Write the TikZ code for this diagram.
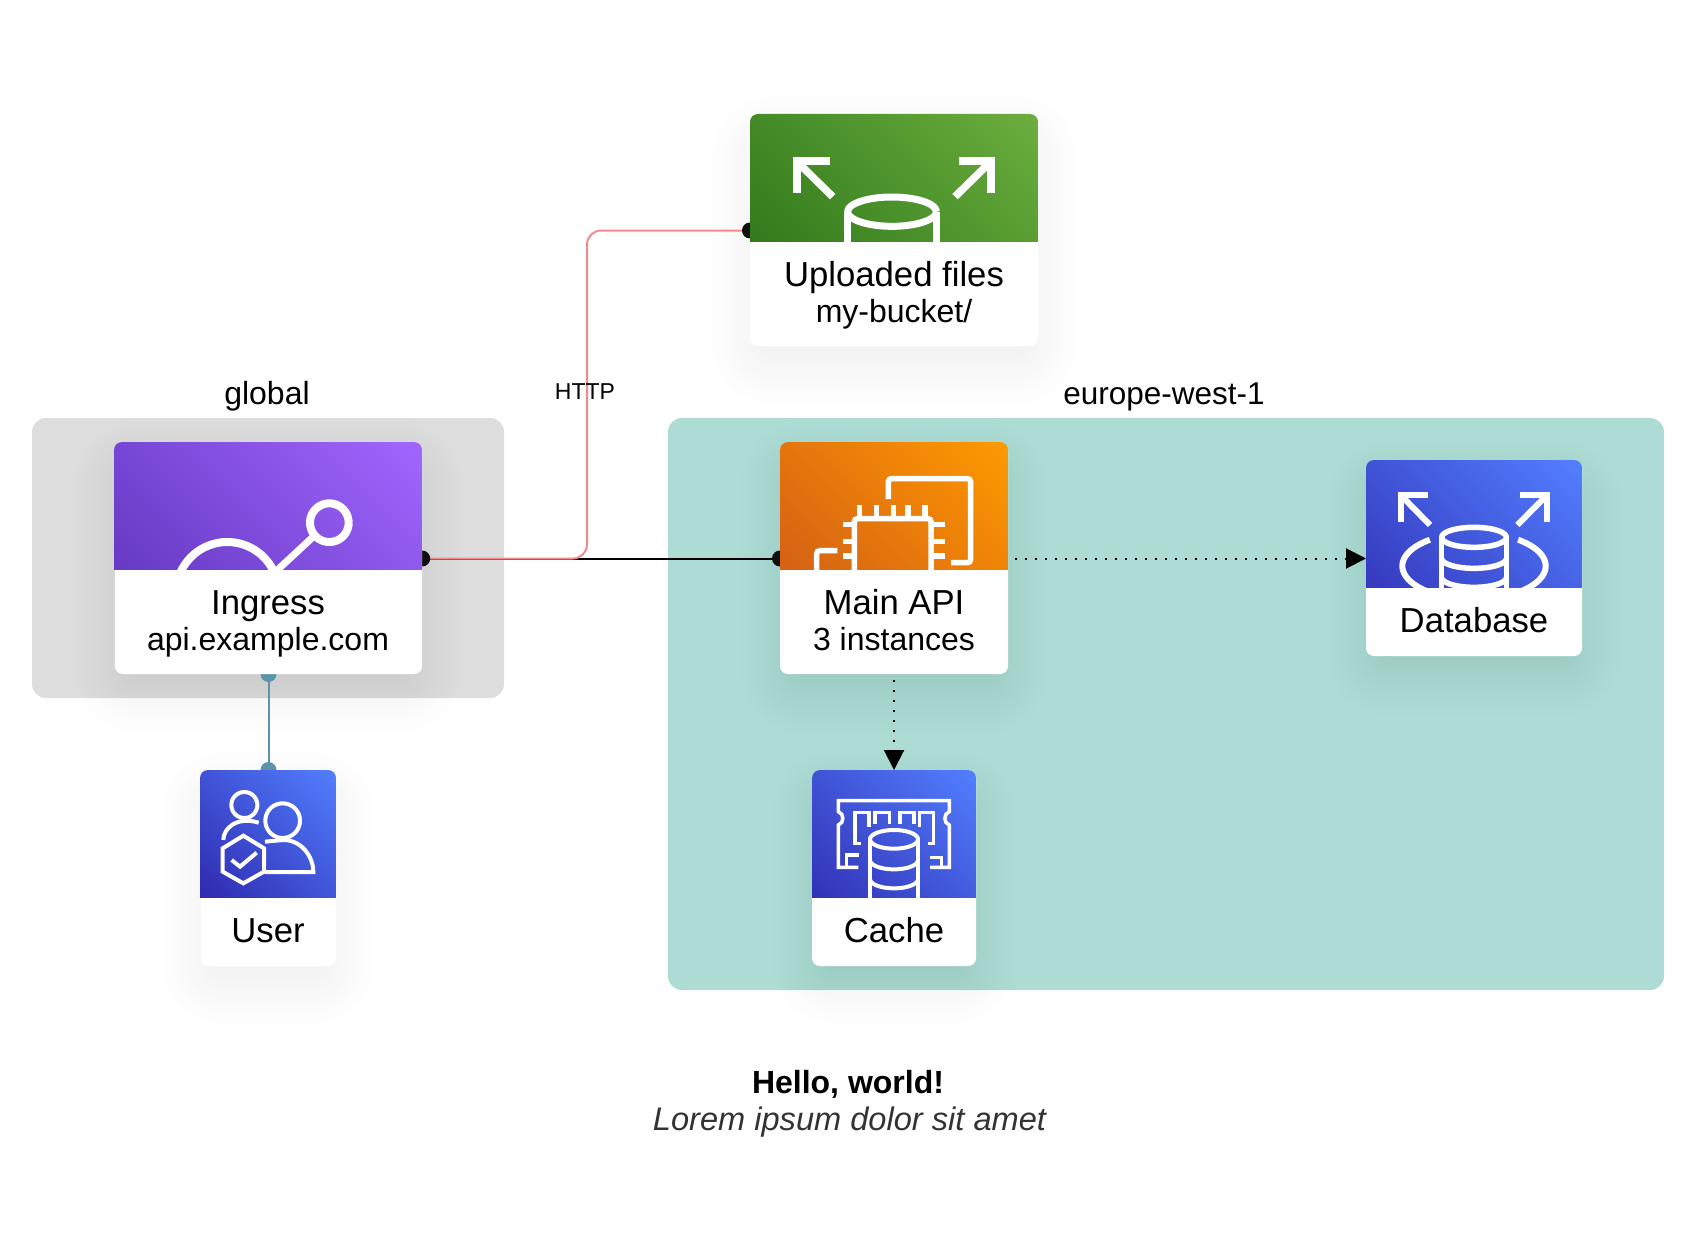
\documentclass[tikz,border=0pt]{standalone}
\usepackage{fontspec}
\setmainfont{Liberation Sans}
\usetikzlibrary{arrows.meta}
\pgfdeclarelayer{under}
\pgfsetlayers{under,main}
\definecolor{gDark}{HTML}{1B660F}\definecolor{gBright}{HTML}{6CAE3E}
\definecolor{pDark}{HTML}{4D27AA}\definecolor{pBright}{HTML}{A166FF}
\definecolor{oDark}{HTML}{C8511B}\definecolor{oBright}{HTML}{FF9900}
\definecolor{bDark}{HTML}{2E27AD}\definecolor{bBright}{HTML}{527FFF}
\definecolor{grpGray}{HTML}{DDDDDD}\definecolor{grpTeal}{HTML}{ADDCD4}
\definecolor{linkPink}{HTML}{F28B90}\definecolor{linkBlue}{HTML}{5B95AB}
\definecolor{dotBlack}{HTML}{0F0F0F}\definecolor{shadowCol}{HTML}{2B2F45}
\definecolor{subGray}{HTML}{333333}
\tikzset{
  x=1pt,y=-1pt,
  card/.style={fill=white,rounded corners=8pt,inner sep=0pt,outer sep=0pt},
  group/.style={rounded corners=14pt,inner sep=0pt,outer sep=0pt},
  big/.style={anchor=base,inner sep=0pt,font=\fontsize{34.7}{40}\selectfont},
  small/.style={anchor=base,inner sep=0pt,font=\fontsize{32}{38}\selectfont},
  icon/.style={draw=white,line width=#1pt,line join=miter,fill=none},
  icon/.default=5,
  link/.style={line width=2pt},
  dots/.style={line width=2pt,dash pattern=on 2pt off 8pt,-{Triangle[length=20pt,width=20pt]}},
}
\newcommand\earc[6][5]{\draw[icon=#1] plot[domain=#6,samples=48,variable=\t] ({#2+#4*cos(\t)},{#3+#5*sin(\t)});}
\newcommand\cardhead[7]{%
  \begin{scope}
    \clip (#1,#2) rectangle (#3,#4);
    \clip[rounded corners=8pt] (#1,#2) rectangle (#3,#4+30);
    \pgfmathsetmacro\cxx{(#1+#3)/2}
    \pgfmathsetmacro\wdt{#3-#1}
    \pgfmathsetmacro\cyy{#2+\wdt/2}
    \pgfmathsetmacro\hlf{\wdt*0.7071}
    \shade[bottom color=#5,top color=#6,shading angle=-45] (\cxx-\hlf,\cyy-\hlf) rectangle (\cxx+\hlf,\cyy+\hlf);
    #7
  \end{scope}}
\newcommand\cardshadow[4]{%
  \foreach \e in {-36,-32,...,40}{
    \pgfmathsetmacro\rr{max(\e+24,4)}
    \fill[shadowCol,opacity=0.005,rounded corners=\rr pt] ({#1-\e},{#2+20-\e}) rectangle ({#3+\e},{#4+20+\e});
  }}
\begin{document}
\begin{tikzpicture}
\useasboundingbox (0,0) rectangle (1694,1252);

% cards
\node[card,minimum width=288pt,minimum height=231pt] (uploaded) at (894,230.5) {};
\node[card,minimum width=307.4pt,minimum height=231pt] (ingress) at (268.5,558.5) {};
\node[card,minimum width=228pt,minimum height=231pt] (mainapi) at (894,558.5) {};
\node[card,minimum width=216pt,minimum height=195pt] (database) at (1474,558.5) {};
\node[card,minimum width=135.4pt,minimum height=196pt] (user) at (268.5,868) {};
\node[card,minimum width=164pt,minimum height=196pt] (cache) at (894,868) {};

% card headers with icons
\cardhead{750}{114}{1038}{241.6}{gDark}{gBright}{%
  \begin{scope}[shift={(720,90)},scale=1/3]
    \draw[icon=8] (330,214)--(230,214)--(230,310);
    \draw[icon=7.5] (232,216)--(338,320);
    \draw[icon=8] (716,214)--(813,214)--(813,310);
    \draw[icon=7.5] (811,216)--(705,320);
    \earc[7]{516}{365}{133}{44}{0:360}
    \draw[icon=7] (383,365)--(383,470);
    \draw[icon=7] (650,365)--(650,470);
  \end{scope}}
\cardhead{114}{442}{422}{569.6}{pDark}{pBright}{%
  \begin{scope}[shift={(90,420)},scale=1/3]
    \earc[8]{718}{308}{58}{58}{0:360}
    \draw[icon=7] (672,348)--(560,452);
    \earc[8]{412}{520}{154}{154}{180:360}
  \end{scope}}
\cardhead{780}{442}{1008}{569.6}{oDark}{oBright}{%
  \begin{scope}[shift={(760,420)},scale=1/3]
    \draw[icon=5.5,rounded corners=3pt] (385,237)--(385,176)--(632,176)--(632,428)--(573,428);
    \draw[icon=5.5,rounded corners=3pt] (283,480)--(283,296)--(513,296)--(513,480);
    \foreach \p in {298,350,401,444,495} \draw[icon=5.5] (\p,255)--(\p,290);
    \foreach \p in {314,365,408} {\draw[icon=5.5] (248,\p)--(283,\p); \draw[icon=5.5] (513,\p)--(555,\p);}
    \draw[icon=5.5,rounded corners=3pt] (170,470)--(170,392)--(232,392);
  \end{scope}}
\cardhead{1366}{460}{1582}{587.6}{bDark}{bBright}{%
  \begin{scope}[shift={(1340,440)},scale=1/3]
    \draw[icon=6] (265,166)--(183,166)--(183,245);
    \draw[icon=6] (185,168)--(270,255);
    \draw[icon=6] (540,166)--(620,166)--(620,245);
    \draw[icon=6] (618,168)--(532,255);
    \earc[6]{402}{378}{215}{100}{130:232}
    \earc[6]{402}{378}{215}{100}{-52:50}
    \earc[5.5]{402}{292}{97}{30}{0:360}
    \earc[5.5]{402}{355}{97}{30}{0:180}
    \earc[5.5]{402}{412}{97}{30}{0:180}
    \draw[icon=5.5] (305,292)--(305,450);
    \draw[icon=5.5] (499,292)--(499,450);
  \end{scope}}
\cardhead{200}{770}{336}{897.6}{bDark}{bBright}{%
  \begin{scope}[shift={(190,660)},scale=1/3]
    \earc[4]{163}{435}{39}{39}{0:360}
    \draw[icon=4] (100,540) .. controls (100,505) and (140,468) .. (206,488);
    \earc[4]{278}{482}{52}{52}{0:360}
    \draw[icon=4] (225,545) -- (280,540) .. controls (335,540) and (370,590) .. (370,636) -- (225,636);
    \draw[icon=4] (160,527)--(222,565)--(222,635)--(160,670)--(98,635)--(98,565)--cycle;
    \draw[icon=4] (125,600)--(150,620)--(200,578);
  \end{scope}}
\cardhead{812}{770}{976}{897.6}{bDark}{bBright}{%
  \begin{scope}[shift={(800,670)},scale=1/3]
    \draw[icon=3.5] (175,592)--(115,592)--(115,465) .. controls (133,460) and (133,430) .. (115,425) --(115,392)--(448,392)--(448,425) .. controls (430,430) and (430,460) .. (448,465) --(448,592)--(390,592);
    \draw[icon=3.5] (140,592)--(140,555)--(178,555);
    \draw[icon=3.5] (425,592)--(425,562)--(390,562);
    \draw[icon=3.5] (182,520)--(165,520)--(165,428)--(207,428)--(207,470);
    \draw[icon=3.5] (225,462)--(225,428)--(268,428)--(268,462);
    \draw[icon=3.5] (300,462)--(300,428)--(342,428)--(342,462);
    \draw[icon=3.5] (358,470)--(358,428)--(400,428)--(400,520)--(385,520);
    \earc[4]{282}{508}{72}{28}{0:360}
    \earc[4]{282}{570}{72}{28}{0:180}
    \earc[4]{282}{627}{72}{28}{0:180}
    \draw[icon=4] (210,508)--(210,700);
    \draw[icon=4] (354,508)--(354,700);
  \end{scope}}

% card texts
\node[big] (uploadedA) at (894,286) {Uploaded files};
\node[small] (uploadedB) at (894,322) {my-bucket/};
\node[big] (ingressA) at (268,614) {Ingress};
\node[small] (ingressB) at (268,650.5) {api.example.com};
\node[big] (mainA) at (894,614) {Main API};
\node[small] (mainB) at (894,650.5) {3 instances};
\node[big] (databaseA) at (1474,632) {Database};
\node[big] (userA) at (268,942) {User};
\node[big] (cacheA) at (894,942) {Cache};

% group labels, edge label, caption
\node[small] (globalL) at (267,404) {global};
\node[small,font=\fontsize{31.5}{38}\selectfont] (europeL) at (1164,404) {europe-west-1};
\node[anchor=base,inner sep=0pt,font=\fontsize{23}{28}\selectfont] (httpL) at (585,399.5) {HTTP};
\node[anchor=base,inner sep=0pt,font=\fontsize{32}{38}\selectfont\bfseries] (titleL) at (848,1093) {Hello, world!};
\node[anchor=base,inner sep=0pt,text=subGray,font=\fontsize{32.6}{38}\selectfont\itshape] (subL) at (849.5,1130) {Lorem ipsum dolor sit amet};

\coordinate (bendA) at (587,558.5);
\coordinate (bendB) at (587,230.5);

\begin{pgfonlayer}{under}
  \node[group,fill=grpGray,minimum width=472pt,minimum height=280pt] (globalG) at (268,558) {};
  \node[group,fill=grpTeal,minimum width=996pt,minimum height=572pt] (europeG) at (1166,704) {};
  \cardshadow{750}{114}{1038}{346}
  \cardshadow{114}{442}{422}{674}
  \cardshadow{780}{442}{1008}{674}
  \cardshadow{1366}{460}{1582}{656}
  \cardshadow{200}{770}{336}{966}
  \cardshadow{812}{770}{976}{966}
  % connectors
  \draw[link,black] (ingress.east) -- (mainapi.west);
  \draw[link,linkPink,rounded corners=14pt] (ingress.east) -- (bendA) -- (bendB) -- (uploaded.west);
  \draw[link,linkBlue] (ingress.south) -- (user.north);
  \fill[dotBlack] (ingress.east) circle[radius=8pt];
  \fill[dotBlack] (uploaded.west) circle[radius=8pt];
  \fill[dotBlack] (mainapi.west) circle[radius=8pt];
  \fill[linkBlue] (ingress.south) circle[radius=8pt];
  \fill[linkBlue] (user.north) circle[radius=8pt];
  \draw[dots,shorten <=7pt] (mainapi.east) -- (database.west);
  \draw[dots,shorten <=6pt] (mainapi.south) -- (cache.north);
\end{pgfonlayer}
\end{tikzpicture}
\end{document}
